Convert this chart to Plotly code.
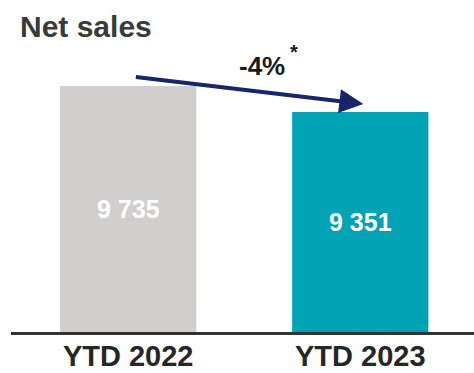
import plotly.graph_objects as go

# Net sales by period
periods = ["YTD 2022", "YTD 2023"]
net_sales = [9735, 9351]
bar_colors = ["#d0cfce", "#00a3b4"]
change_label = "-4%"
value_labels = [f"{v:,}".replace(",", " ") for v in net_sales]

# Value axis is truncated; bars start below the visible floor
axis_floor = 6102
axis_ceiling = 11005

FONT = "Liberation Sans, Arial, sans-serif"

fig = go.Figure(
    go.Bar(
        x=periods,
        y=net_sales,
        marker=dict(color=bar_colors, line=dict(width=0)),
        width=0.587,
        hoverinfo="skip",
    )
)

# Value labels centred in the visible part of each bar
for period, value, label in zip(periods, net_sales, value_labels):
    fig.add_annotation(
        x=period, y=(axis_floor + value) / 2, xref="x", yref="y",
        text=label, showarrow=False, xanchor="center", yanchor="middle",
        font=dict(family=FONT, size=25, color="#ffffff", weight="bold"),
    )

fig.update_layout(
    width=474,
    height=373,
    margin=dict(l=11, r=0, t=0, b=41),
    paper_bgcolor="white",
    plot_bgcolor="white",
    showlegend=False,
    font=dict(family=FONT),
)

fig.update_xaxes(
    range=[-0.505, 1.49],
    showline=True,
    linecolor="#333333",
    linewidth=3,
    showgrid=False,
    ticks="",
    tickfont=dict(family=FONT, size=29, color="#262626", weight="bold"),
    ticklabelstandoff=-4,
    automargin=False,
)
fig.update_yaxes(
    range=[axis_floor, axis_ceiling],
    visible=False,
    showgrid=False,
)

# Title
fig.add_annotation(
    text="Net sales", xref="paper", yref="paper", x=0.015, y=0.976,
    xanchor="left", yanchor="top", showarrow=False,
    font=dict(family=FONT, size=30, color="#3a3a3a", weight="bold"),
)

# Change arrow between the bars
fig.add_annotation(
    xref="paper", yref="paper", x=0.761, y=0.687,
    ax=-229, ay=-27, text="", showarrow=True,
    arrowhead=2, arrowsize=1.2, arrowwidth=4, arrowcolor="#17256b",
    standoff=0,
)
fig.add_annotation(
    text=change_label, xref="paper", yref="paper", x=0.542, y=0.800,
    xanchor="center", yanchor="middle", showarrow=False,
    font=dict(family=FONT, size=26, color="#1a1a1a", weight="bold"),
)
fig.add_annotation(
    text="*", xref="paper", yref="paper", x=0.611, y=0.843,
    xanchor="center", yanchor="middle", showarrow=False,
    font=dict(family=FONT, size=20, color="#1a1a1a", weight="bold"),
)

fig.write_html("out.html")
